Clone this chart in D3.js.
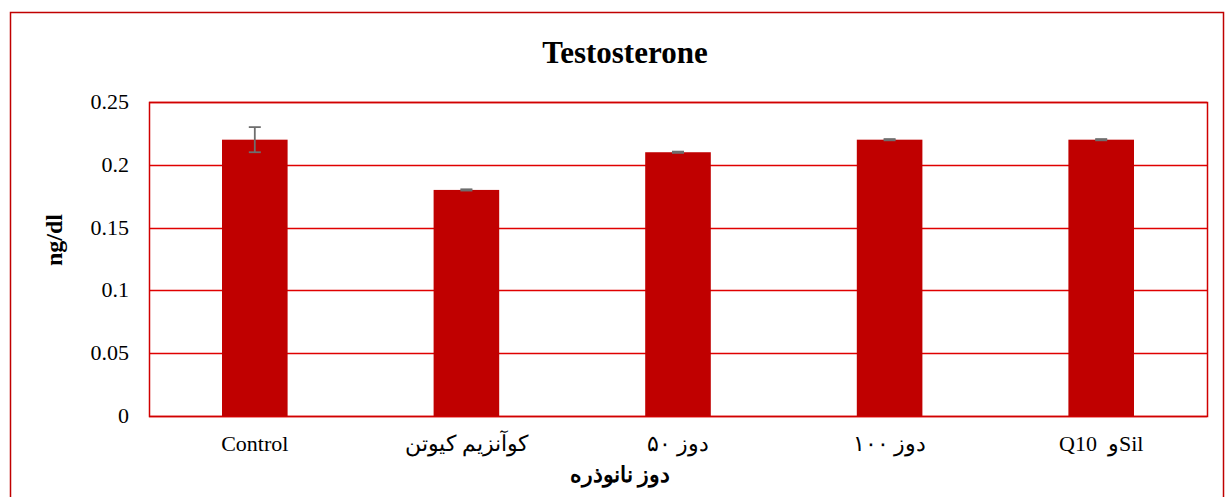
<!DOCTYPE html>
<html>
<head>
<meta charset="utf-8">
<script src="https://cdn.jsdelivr.net/npm/d3@7"></script>
<style>
  body { margin: 0; background: #fff; }
  text { font-family: "Liberation Serif", "Times New Roman", serif; }
</style>
</head>
<body>
<div id="chart"></div>
<script>
var categories = ["Control", "کوآنزیم کیوتن", "دوز ۵۰", "دوز ۱۰۰", "Q10\u00A0\u00A0وSil"];
var values = [0.22, 0.18, 0.21, 0.22, 0.22];
var errors = [0.01, 0.0005, 0.0005, 0.0005, 0.0005];
var yTicks = [0, 0.05, 0.1, 0.15, 0.2, 0.25];

var width = 1226, height = 497;
var margin = {top: 102, right: 19, bottom: 81, left: 149};

var svg = d3.select("#chart").append("svg")
  .attr("width", width)
  .attr("height", height);

// outer frame
svg.append("rect")
  .attr("x", 10.5).attr("y", 12.5)
  .attr("width", 1213).attr("height", 490)
  .attr("fill", "none")
  .attr("stroke", "#c00000")
  .attr("stroke-width", 1.5);

var x = d3.scaleBand()
  .domain(categories)
  .range([margin.left, width - margin.right])
  .paddingInner(0.69)
  .paddingOuter(0.345);

var y = d3.scaleLinear()
  .domain([0, 0.25])
  .range([height - margin.bottom, margin.top]);

// grid lines
svg.append("g").selectAll("line")
  .data(yTicks)
  .enter().append("line")
  .attr("x1", margin.left).attr("x2", width - margin.right)
  .attr("y1", function(d) { return Math.round(y(d)) + 0.5; })
  .attr("y2", function(d) { return Math.round(y(d)) + 0.5; })
  .attr("stroke", "#e00000")
  .attr("stroke-width", 1.5);

// plot border
svg.append("rect")
  .attr("x", margin.left + 0.5).attr("y", margin.top + 0.5)
  .attr("width", width - margin.left - margin.right)
  .attr("height", height - margin.top - margin.bottom)
  .attr("fill", "none")
  .attr("stroke", "#d00000")
  .attr("stroke-width", 1.5);

// bars
svg.append("g").selectAll("rect")
  .data(values)
  .enter().append("rect")
  .attr("x", function(d, i) { return x(categories[i]); })
  .attr("y", function(d) { return y(d); })
  .attr("width", x.bandwidth())
  .attr("height", function(d) { return y(0) - y(d); })
  .attr("fill", "#c00000");

// error bars
var eb = svg.append("g").attr("stroke", "#6e6e6e").attr("stroke-width", 1.8);
values.forEach(function(v, i) {
  var cx = x(categories[i]) + x.bandwidth() / 2;
  var e = errors[i];
  eb.append("line").attr("x1", cx).attr("x2", cx).attr("y1", y(v + e)).attr("y2", y(v - e));
  eb.append("line").attr("x1", cx - 6).attr("x2", cx + 6).attr("y1", y(v + e)).attr("y2", y(v + e));
  eb.append("line").attr("x1", cx - 6).attr("x2", cx + 6).attr("y1", y(v - e)).attr("y2", y(v - e));
});

// y axis labels
svg.append("g").selectAll("text")
  .data(yTicks)
  .enter().append("text")
  .attr("x", 129)
  .attr("y", function(d) { return y(d) + 7; })
  .attr("text-anchor", "end")
  .attr("font-size", 22)
  .text(function(d) { return d3.format("")(d); });

// x axis labels
svg.append("g").selectAll("text")
  .data(categories)
  .enter().append("text")
  .attr("x", function(d) { return x(d) + x.bandwidth() / 2; })
  .attr("y", 451)
  .attr("text-anchor", "middle")
  .attr("font-size", 22)
  .text(function(d) { return d; });

// title
svg.append("text")
  .attr("x", 625).attr("y", 63)
  .attr("text-anchor", "middle")
  .attr("font-size", 31)
  .attr("font-weight", "bold")
  .text("Testosterone");

// y title
svg.append("text")
  .attr("transform", "translate(62,240) rotate(-90)")
  .attr("text-anchor", "middle")
  .attr("font-size", 24)
  .attr("font-weight", "bold")
  .text("ng/dl");

// x title
svg.append("text")
  .attr("x", 620).attr("y", 482)
  .attr("text-anchor", "middle")
  .attr("font-size", 22)
  .attr("font-weight", "bold")
  .text("دوز نانوذره");
</script>
</body>
</html>
